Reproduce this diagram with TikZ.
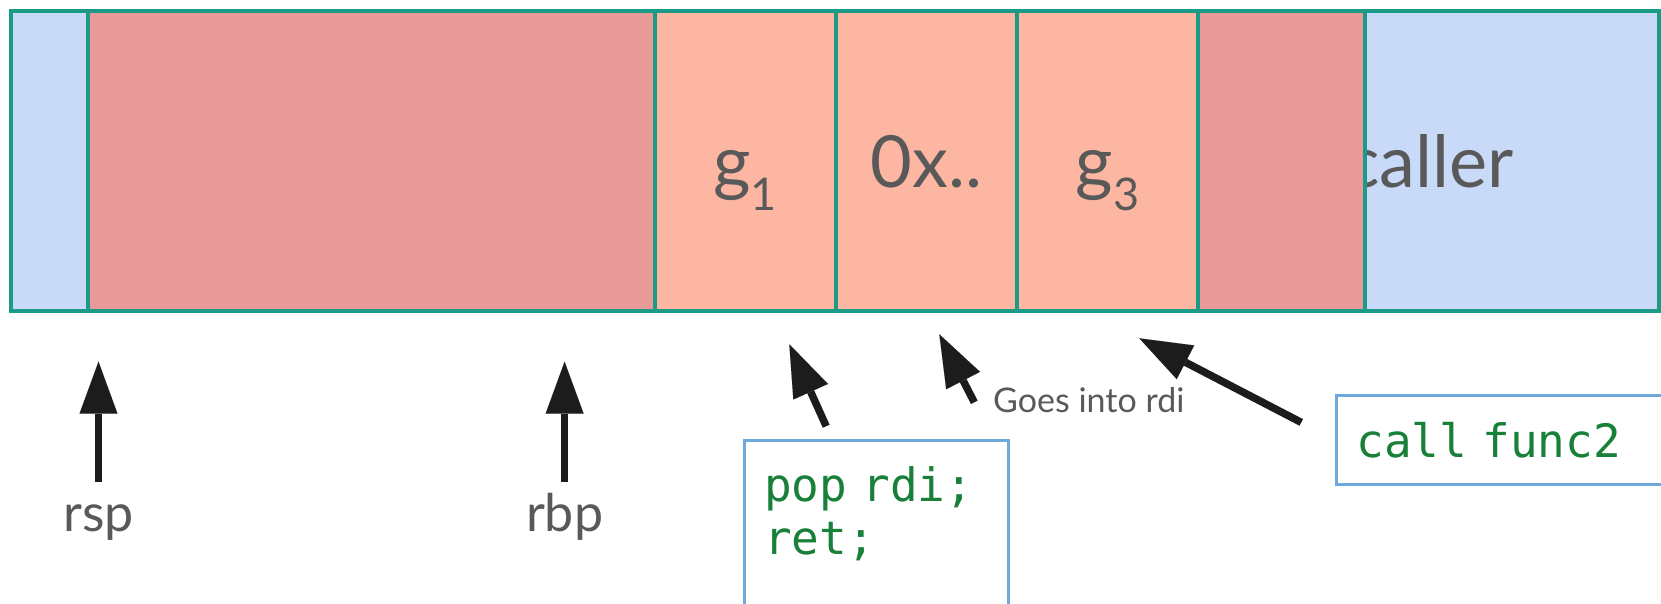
\documentclass[tikz,border=0pt]{standalone}
\usepackage{fontspec}
\setmainfont{Lato}
\setmonofont{DejaVu Sans Mono}
\usetikzlibrary{arrows.meta,positioning}
\definecolor{stackblue}{HTML}{C9DAF8}
\definecolor{stackred}{HTML}{EA9999}
\definecolor{stackpeach}{HTML}{FCB6A1}
\definecolor{celledge}{HTML}{1B9A87}
\definecolor{txtgray}{HTML}{595959}
\definecolor{codegreen}{HTML}{188038}
\definecolor{boxedge}{HTML}{6FA8DC}
\definecolor{ptrblack}{HTML}{1C1C1C}

\begin{document}
\begin{tikzpicture}
      [x=1pt,y=-1pt
      ,cell/.style={draw=celledge,line width=4pt,minimum height=300.5pt,inner sep=0pt,outer sep=0pt}
      ,big/.style={text=txtgray,font=\fontsize{72}{80}\selectfont,inner sep=0pt}
      ,reg/.style={text=txtgray,font=\fontsize{52}{60}\selectfont,inner sep=0pt,text height=27pt}
      ,note/.style={text=txtgray,font=\fontsize{34}{40}\selectfont,inner sep=0pt}
      ,code/.style={draw=boxedge,line width=3pt,text=codegreen,font=\ttfamily\fontsize{46}{53}\selectfont,inner xsep=20pt,inner ysep=26.5pt,align=left}
      ,ptr/.style={draw=ptrblack,line width=7.5pt,-{Triangle[length=52pt,width=38pt,line width=0.01pt]}}
      ]
        \useasboundingbox (0,0) rectangle (1661,603);
        
        % stack, right to left
        \node[cell,fill=stackblue,minimum width=294.8pt,anchor=north east] (caller) at (1659.3,10.5) {};
        \node[big,anchor=base east] (callertxt) at (1514,187) {caller};
        \node[cell,fill=stackred,minimum width=166.3pt,left=0pt of caller] (saved) {};
        \node[cell,fill=stackpeach,minimum width=181.2pt,left=0pt of saved] (g3) {};
        \node[cell,fill=stackpeach,minimum width=181.2pt,left=0pt of g3] (addr) {};
        \node[cell,fill=stackpeach,minimum width=181.2pt,left=0pt of addr] (g1) {};
        \node[cell,fill=stackred,minimum width=566.5pt,left=0pt of g1] (buf) {};
        \node[cell,fill=stackblue,minimum width=77.3pt,left=0pt of buf] (pad) {};
        
        \coordinate (txtline) at (0,187);
        \node[big,anchor=base] (g1txt) at (g1 |- txtline) {g{\fontsize{45}{45}\selectfont\raisebox{-23pt}{1}}};
        \node[big,anchor=base] (addrtxt) at (addr |- txtline) {0x..};
        \node[big,anchor=base] (g3txt) at (g3 |- txtline) {g{\fontsize{45}{45}\selectfont\raisebox{-23pt}{3}}};
        
        % registers
        \node[reg,anchor=base] (rsp) at (98.5,531) {rsp};
        \node[reg,anchor=base] (rbp) at (564.6,531) {rbp};
        \coordinate (rsptip) at (98.5,361.7);
        \coordinate (rbptip) at (564.6,361.7);
        \draw[ptr,shorten <=22pt] (rsp) -- (rsptip);
        \draw[ptr,shorten <=22pt] (rbp) -- (rbptip);
        
        % gadgets
        \node[code,anchor=north west,text width=224pt] (popbox) at (742.7,439) {pop rdi;\\ret;\\\mbox{}};
        \node[code,anchor=north west,text width=330pt] (callbox) at (1335,394) {call func2};
        \node[note,anchor=base west] (goes) at (993,412) {Goes into rdi};
        
        \coordinate (g1tip) at (789.3,344.3);
        \coordinate (addrtail) at (974.3,402.3);
        \coordinate (addrtip) at (939.3,334.3);
        \coordinate (g3tip) at (1139.3,338.3);
        \draw[ptr,shorten <=14pt] (popbox) -- (g1tip);
        \draw[ptr] (addrtail) -- (addrtip);
        \draw[ptr,shorten <=38pt] (callbox.west) -- (g3tip);
        
      \end{tikzpicture}
\end{document}
